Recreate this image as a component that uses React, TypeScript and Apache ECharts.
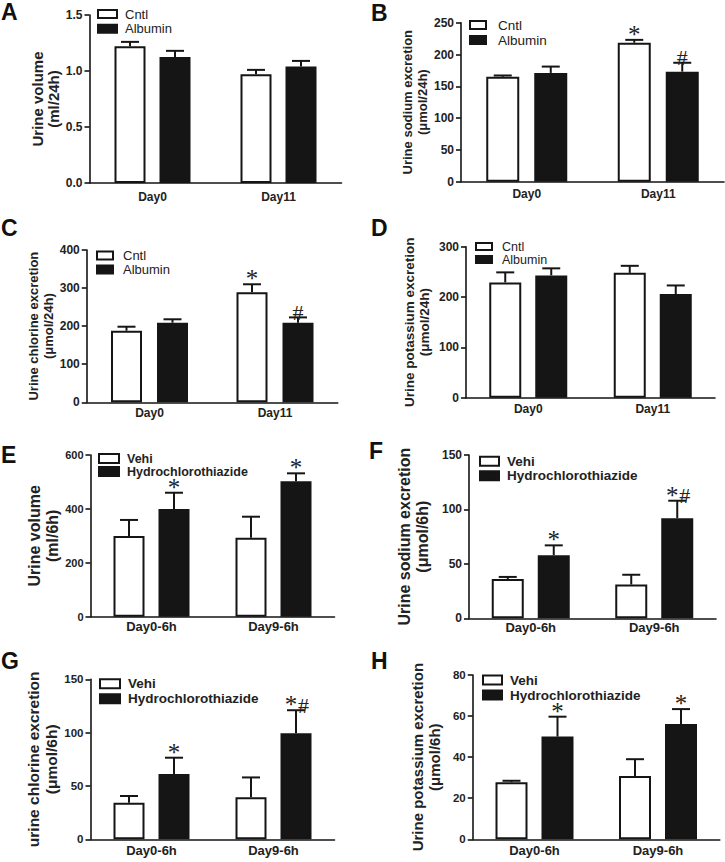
import React, { useEffect, useRef } from 'react';
import * as echarts from 'echarts';

// ---------- categories / names ----------
const panelLetters = ['A', 'B', 'C', 'D', 'E', 'F', 'G', 'H'];
const dayCategories = ['Day0', 'Day11'];
const hctzCategories = ['Day0-6h', 'Day9-6h'];
const albuminGroups = ['Cntl', 'Albumin'];
const hctzGroups = ['Vehi', 'Hydrochlorothiazide'];

// ---------- A: urine volume (ml/24h) ----------
const volume24Cntl = [1.22, 0.97];
const volume24CntlSem = [0.04, 0.04];
const volume24Alb = [1.125, 1.04];
const volume24AlbSem = [0.055, 0.05];
const volume24CntlMarks = ['', ''];
const volume24AlbMarks = ['', ''];

// ---------- B: urine sodium (µmol/24h) ----------
const sodium24Cntl = [165, 218.5];
const sodium24CntlSem = [2, 4.5];
const sodium24Alb = [171, 173];
const sodium24AlbSem = [10, 14];
const sodium24CntlMarks = ['', '*'];
const sodium24AlbMarks = ['', '#'];

// ---------- C: urine chlorine (µmol/24h) ----------
const chlorine24Cntl = [188, 289];
const chlorine24CntlSem = [10.5, 21];
const chlorine24Alb = [209, 209];
const chlorine24AlbSem = [9, 14];
const chlorine24CntlMarks = ['', '*'];
const chlorine24AlbMarks = ['', '#'];

// ---------- D: urine potassium (µmol/24h) ----------
const potassium24Cntl = [229, 248];
const potassium24CntlSem = [20, 14];
const potassium24Alb = [243, 206];
const potassium24AlbSem = [14, 17];
const potassium24CntlMarks = ['', ''];
const potassium24AlbMarks = ['', ''];

// ---------- E: urine volume (ml/6h) ----------
const volume6Vehi = [299, 293];
const volume6VehiSem = [60, 78];
const volume6Hctz = [400, 503];
const volume6HctzSem = [60, 29];
const volume6VehiMarks = ['', ''];
const volume6HctzMarks = ['*', '*'];

// ---------- F: urine sodium (µmol/6h) ----------
const sodium6Vehi = [36, 31];
const sodium6VehiSem = [2, 9];
const sodium6Hctz = [58, 92];
const sodium6HctzSem = [9, 16];
const sodium6VehiMarks = ['', ''];
const sodium6HctzMarks = ['*', '*#'];

// ---------- G: urine chlorine (µmol/6h) ----------
const chlorine6Vehi = [34.3, 39.4];
const chlorine6VehiSem = [6.3, 18.6];
const chlorine6Hctz = [61.2, 99.4];
const chlorine6HctzSem = [15.3, 21.6];
const chlorine6VehiMarks = ['', ''];
const chlorine6HctzMarks = ['*', '*#'];

// ---------- H: urine potassium (µmol/6h) ----------
const potassium6Vehi = [27.8, 30.8];
const potassium6VehiSem = [0.7, 8.2];
const potassium6Hctz = [50, 56.1];
const potassium6HctzSem = [9.7, 7.3];
const potassium6VehiMarks = ['', ''];
const potassium6HctzMarks = ['*', '*'];

// ---------- y axes ----------
const yMax = [1.5, 250, 400, 300, 600, 150, 150, 80];
const yInterval = [0.5, 50, 100, 100, 200, 50, 50, 20];
const yNames = [
  'Urine volume\n(ml/24h)',
  'Urine sodium excretion\n(\u03bcmol/24h)',
  'Urine chlorine excretion\n(\u03bcmol/24h)',
  'Urine potassium excretion\n(\u03bcmol/24h)',
  'Urine volume\n(ml/6h)',
  'Urine sodium excretion\n(\u03bcmol/6h)',
  'urine chlorine excretion\n(\u03bcmol/6h)',
  'Urine potassium excretion\n(\u03bcmol/6h)',
];

const panelData = [
  { cats: dayCategories, groups: albuminGroups, a: volume24Cntl, aSem: volume24CntlSem, aMarks: volume24CntlMarks, b: volume24Alb, bSem: volume24AlbSem, bMarks: volume24AlbMarks },
  { cats: dayCategories, groups: albuminGroups, a: sodium24Cntl, aSem: sodium24CntlSem, aMarks: sodium24CntlMarks, b: sodium24Alb, bSem: sodium24AlbSem, bMarks: sodium24AlbMarks },
  { cats: dayCategories, groups: albuminGroups, a: chlorine24Cntl, aSem: chlorine24CntlSem, aMarks: chlorine24CntlMarks, b: chlorine24Alb, bSem: chlorine24AlbSem, bMarks: chlorine24AlbMarks },
  { cats: dayCategories, groups: albuminGroups, a: potassium24Cntl, aSem: potassium24CntlSem, aMarks: potassium24CntlMarks, b: potassium24Alb, bSem: potassium24AlbSem, bMarks: potassium24AlbMarks },
  { cats: hctzCategories, groups: hctzGroups, a: volume6Vehi, aSem: volume6VehiSem, aMarks: volume6VehiMarks, b: volume6Hctz, bSem: volume6HctzSem, bMarks: volume6HctzMarks },
  { cats: hctzCategories, groups: hctzGroups, a: sodium6Vehi, aSem: sodium6VehiSem, aMarks: sodium6VehiMarks, b: sodium6Hctz, bSem: sodium6HctzSem, bMarks: sodium6HctzMarks },
  { cats: hctzCategories, groups: hctzGroups, a: chlorine6Vehi, aSem: chlorine6VehiSem, aMarks: chlorine6VehiMarks, b: chlorine6Hctz, bSem: chlorine6HctzSem, bMarks: chlorine6HctzMarks },
  { cats: hctzCategories, groups: hctzGroups, a: potassium6Vehi, aSem: potassium6VehiSem, aMarks: potassium6VehiMarks, b: potassium6Hctz, bSem: potassium6HctzSem, bMarks: potassium6HctzMarks },
];

// ---------- layout (pixels) ----------
const layouts = [
  { l: 89.5, r: 341.5, t: 15, b: 183, letter: [1, 0], nameSize: 15, nameLH: 16, nameGap: 27, yFont: 12, xFont: 12, xMargin: 8, lgL: 97, lgT: 7, lgW: 19, lgH: 8, lgLH: 14, lgGap: 0.7, lgFont: 13, lgBold: false, lgPad: 3, bw: 31, gap: 14 },
  { l: 461, r: 724, t: 22.7, b: 181.7, letter: [371, 1], nameSize: 13, nameLH: 15, nameGap: 31, yFont: 12, xFont: 12, xMargin: 6, lgL: 469, lgT: 18, lgW: 16, lgH: 8, lgLH: 14, lgGap: 1, lgFont: 13.5, lgBold: false, lgPad: 7, bw: 33, gap: 15 },
  { l: 86.75, r: 337.75, t: 250, b: 402.3, letter: [1, 216], nameSize: 13, nameLH: 15, nameGap: 24, yFont: 12, xFont: 12, xMargin: 5, lgL: 96, lgT: 248.5, lgW: 16, lgH: 8, lgLH: 14, lgGap: 0, lgFont: 13, lgBold: false, lgPad: 5, bw: 31, gap: 15 },
  { l: 466, r: 715, t: 246.7, b: 397.7, letter: [371, 216], nameSize: 13.5, nameLH: 15, nameGap: 34, yFont: 12, xFont: 12, xMargin: 5, lgL: 475, lgT: 240, lgW: 16, lgH: 7, lgLH: 12.5, lgGap: 0, lgFont: 12.5, lgBold: false, lgPad: 5, bw: 32, gap: 14 },
  { l: 90.5, r: 334.5, t: 455, b: 616.7, letter: [1, 443], nameSize: 16, nameLH: 18, nameGap: 28, yFont: 11, xFont: 13, xMargin: 3, lgL: 98, lgT: 452, lgW: 20, lgH: 9, lgLH: 13, lgGap: 0, lgFont: 12.5, lgBold: true, lgPad: 3, bw: 31, gap: 14 },
  { l: 469, r: 716, t: 455, b: 618.3, letter: [369, 439], nameSize: 16, nameLH: 18, nameGap: 38, yFont: 12, xFont: 13, xMargin: 3, lgL: 479, lgT: 454.3, lgW: 19, lgH: 9, lgLH: 14, lgGap: 0.4, lgFont: 13.5, lgBold: true, lgPad: 3, bw: 32, gap: 14 },
  { l: 90.5, r: 334.5, t: 679.3, b: 839.3, letter: [1, 649], nameSize: 15.5, nameLH: 18, nameGap: 27, yFont: 11.5, xFont: 13, xMargin: 5, lgL: 99, lgT: 676.8, lgW: 20, lgH: 9, lgLH: 14, lgGap: 1, lgFont: 13.5, lgBold: true, lgPad: 3, bw: 31, gap: 14 },
  { l: 472.75, r: 719.75, t: 675, b: 839.3, letter: [371, 649], nameSize: 15, nameLH: 17, nameGap: 30, yFont: 11.5, xFont: 13, xMargin: 5, lgL: 482, lgT: 673, lgW: 19, lgH: 9, lgLH: 14, lgGap: 1, lgFont: 13.5, lgBold: true, lgPad: 3, bw: 32, gap: 14 },
];

const INK = '#151515';
const FONT = 'Liberation Sans, Arial, sans-serif';
const SERIF = 'Liberation Serif, Times New Roman, serif';

function markElements(mark: string, cx: number, capY: number) {
  const out: any[] = [];
  const hasStar = mark.indexOf('*') >= 0;
  const hasHash = mark.indexOf('#') >= 0;
  const both = hasStar && hasHash;
  if (hasStar) {
    out.push({
      type: 'text', x: both ? cx - 5 : cx, y: capY - 5.5,
      style: { text: '*', fontSize: 25, fontFamily: SERIF, fill: '#222', align: 'center', verticalAlign: 'middle', lineHeight: 12 },
    });
  }
  if (hasHash) {
    out.push({
      type: 'text', x: both ? cx + 7.5 : cx, y: capY - 5,
      style: { text: '#', fontSize: 22, fontFamily: SERIF, fill: '#222', align: 'center', verticalAlign: 'middle', lineHeight: 14 },
    });
  }
  return out;
}

function buildOption() {
  const grid: any[] = [];
  const xAxis: any[] = [];
  const yAxis: any[] = [];
  const series: any[] = [];
  const legend: any[] = [];
  const graphic: any[] = [];

  panelData.forEach((pd, i) => {
    const L = layouts[i];
    grid.push({ left: L.l, top: L.t, width: L.r - L.l, height: L.b - L.t, outerBoundsMode: 'none', containLabel: false });
    xAxis.push({
      type: 'category', gridIndex: i, data: pd.cats,
      axisLine: { lineStyle: { color: INK, width: 1.6 } },
      axisTick: { alignWithLabel: true, length: 5, lineStyle: { color: INK, width: 1.6 } },
      axisLabel: { fontSize: L.xFont, fontWeight: 'bold', fontFamily: FONT, color: '#222', margin: L.xMargin },
    });
    yAxis.push({
      type: 'value', gridIndex: i, min: 0, max: yMax[i], interval: yInterval[i],
      splitLine: { show: false },
      axisLine: { show: true, lineStyle: { color: INK, width: 1.6 } },
      axisTick: { show: true, length: 5, lineStyle: { color: INK, width: 1.6 } },
      axisLabel: {
        fontSize: L.yFont, fontWeight: 'bold', fontFamily: FONT, color: '#222', margin: 7,
        formatter: (v: number) => (yInterval[i] < 1 ? v.toFixed(1) : String(v)),
      },
      name: yNames[i], nameLocation: 'middle', nameRotate: 90, nameGap: L.nameGap,
      nameTextStyle: { fontSize: L.nameSize, fontWeight: 'bold', fontFamily: FONT, color: '#222', lineHeight: L.nameLH },
    });
    const half = (L.bw + L.gap) / 2;
    const styles = [
      { color: '#ffffff', borderColor: INK, borderWidth: 2 },
      { color: INK, borderColor: INK, borderWidth: 2 },
    ];
    const groupsData = [
      { name: pd.groups[0], vals: pd.a, sem: pd.aSem, marks: pd.aMarks, off: -half },
      { name: pd.groups[1], vals: pd.b, sem: pd.bSem, marks: pd.bMarks, off: half },
    ];
    groupsData.forEach((g, k) => {
      series.push({
        type: 'bar', name: g.name, xAxisIndex: i, yAxisIndex: i, data: g.vals,
        barWidth: L.bw, barGap: (L.gap / L.bw) * 100 + '%', itemStyle: styles[k], silent: true, z: 2,
      });
    });
    groupsData.forEach((g, k) => {
      series.push({
        type: 'custom', name: 'err-' + panelLetters[i] + k, xAxisIndex: i, yAxisIndex: i, z: 3, silent: true,
        data: g.vals.map((v, j) => [j, v, v + g.sem[j]]),
        renderItem: (params: any, api: any) => {
          const j = api.value(0);
          const p0 = api.coord([j, api.value(1)]);
          const p1 = api.coord([j, api.value(2)]);
          const cx = p0[0] + g.off;
          const cap = 9;
          const children: any[] = [
            { type: 'line', shape: { x1: cx, y1: p0[1], x2: cx, y2: p1[1] }, style: { stroke: INK, lineWidth: 2 } },
            { type: 'line', shape: { x1: cx - cap, y1: p1[1], x2: cx + cap, y2: p1[1] }, style: { stroke: INK, lineWidth: 2 } },
          ];
          const mark = g.marks[params.dataIndex];
          if (mark) children.push(...markElements(mark, cx, p1[1]));
          return { type: 'group', children };
        },
      });
    });
    legend.push({
      left: L.lgL, top: L.lgT, orient: 'vertical', padding: 0, icon: 'rect', selectedMode: false,
      itemWidth: L.lgW, itemHeight: L.lgH, itemGap: L.lgGap,
      textStyle: { fontSize: L.lgFont, fontWeight: L.lgBold ? 'bold' : 'normal', fontFamily: FONT, color: '#222', lineHeight: L.lgLH, padding: [0, 0, 0, L.lgPad] },
      data: [
        { name: pd.groups[0], itemStyle: { color: '#ffffff', borderColor: INK, borderWidth: 2 } },
        { name: pd.groups[1], itemStyle: { color: INK, borderColor: INK, borderWidth: 2 } },
      ],
    });
    graphic.push({
      type: 'text', left: L.letter[0], top: L.letter[1],
      style: { text: panelLetters[i], fontSize: 23, fontWeight: 'bold', fontFamily: FONT, fill: '#111' },
    });
  });

  return { animation: false, backgroundColor: '#ffffff', grid, xAxis, yAxis, series, legend, graphic };
}

export default function App() {
  const ref = useRef<HTMLDivElement>(null);
  useEffect(() => {
    if (!ref.current) return;
    const chart = echarts.init(ref.current, undefined, { renderer: 'svg' });
    chart.setOption(buildOption() as any);
    return () => chart.dispose();
  }, []);
  return <div ref={ref} style={{ position: 'absolute', left: 0, top: 0, width: 725, height: 862, background: '#fff' }} />;
}
